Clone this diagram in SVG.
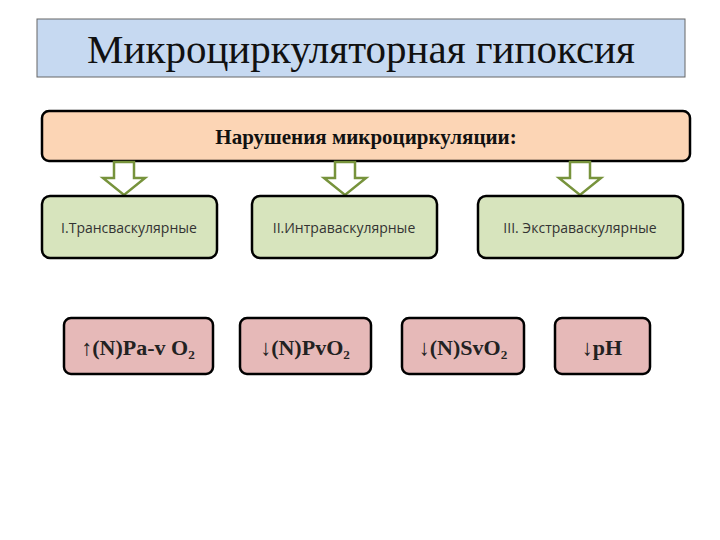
<svg xmlns="http://www.w3.org/2000/svg" width="720" height="540" viewBox="0 0 720 540">
<style>
.g{fill:#d7e4bd;stroke:#000;stroke-width:2.5}
.p{fill:#e6b9b8;stroke:#000;stroke-width:2.5}
.a{fill:#fff;stroke:#77933c;stroke-width:2.5}
.s{font-family:"Open Sans",sans-serif;font-size:14px;fill:#333;text-anchor:middle}
.t{font-family:"Liberation Serif",serif;font-weight:bold;font-size:22px;fill:#222;text-anchor:middle}
</style>
<rect width="720" height="540" fill="#fff"/>
<g id="title"><rect x="37" y="19" width="648" height="58" fill="#c6d9f1" stroke="#666" stroke-width="1"/>
<text x="361" y="63" font-family="Liberation Serif,serif" font-size="41" text-anchor="middle" fill="#111">Микроциркуляторная гипоксия</text></g>
<g id="main"><rect x="42" y="111" width="648" height="50" rx="7" fill="#fcd5b5" stroke="#000" stroke-width="2.5"/>
<text x="366" y="144" font-family="Liberation Serif,serif" font-weight="bold" font-size="21" text-anchor="middle" fill="#111">Нарушения микроциркуляции:</text></g>
<g id="connectors">
<path class="a" d="M114 162h20v16h11l-21 17l-21-17h11z"/>
<path class="a" d="M335 162h20v16h11l-21 17l-21-17h11z"/>
<path class="a" d="M570 162h20v16h11l-21 17l-21-17h11z"/>
</g>
<g id="n1"><rect class="g" x="42" y="196" width="175" height="62" rx="8"/><text class="s" x="129" y="233">I.Трансваскулярные</text></g>
<g id="n2"><rect class="g" x="252" y="196" width="185" height="62" rx="8"/><text class="s" x="344" y="233">II.Интраваскулярные</text></g>
<g id="n3"><rect class="g" x="478" y="196" width="205" height="62" rx="8"/><text class="s" x="580" y="233">III. Экстраваскулярные</text></g>
<g id="p1"><rect class="p" x="64" y="318" width="149" height="56" rx="7"/><text class="t" x="138" y="355">↑(N)Pa-v O₂</text></g>
<g id="p2"><rect class="p" x="240" y="318" width="131" height="56" rx="7"/><text class="t" x="305" y="355">↓(N)PvO₂</text></g>
<g id="p3"><rect class="p" x="402" y="318" width="122" height="56" rx="7"/><text class="t" x="463" y="355">↓(N)SvO₂</text></g>
<g id="p4"><rect class="p" x="555" y="318" width="95" height="56" rx="7"/><text class="t" x="602" y="355">↓pH</text></g>
</svg>
